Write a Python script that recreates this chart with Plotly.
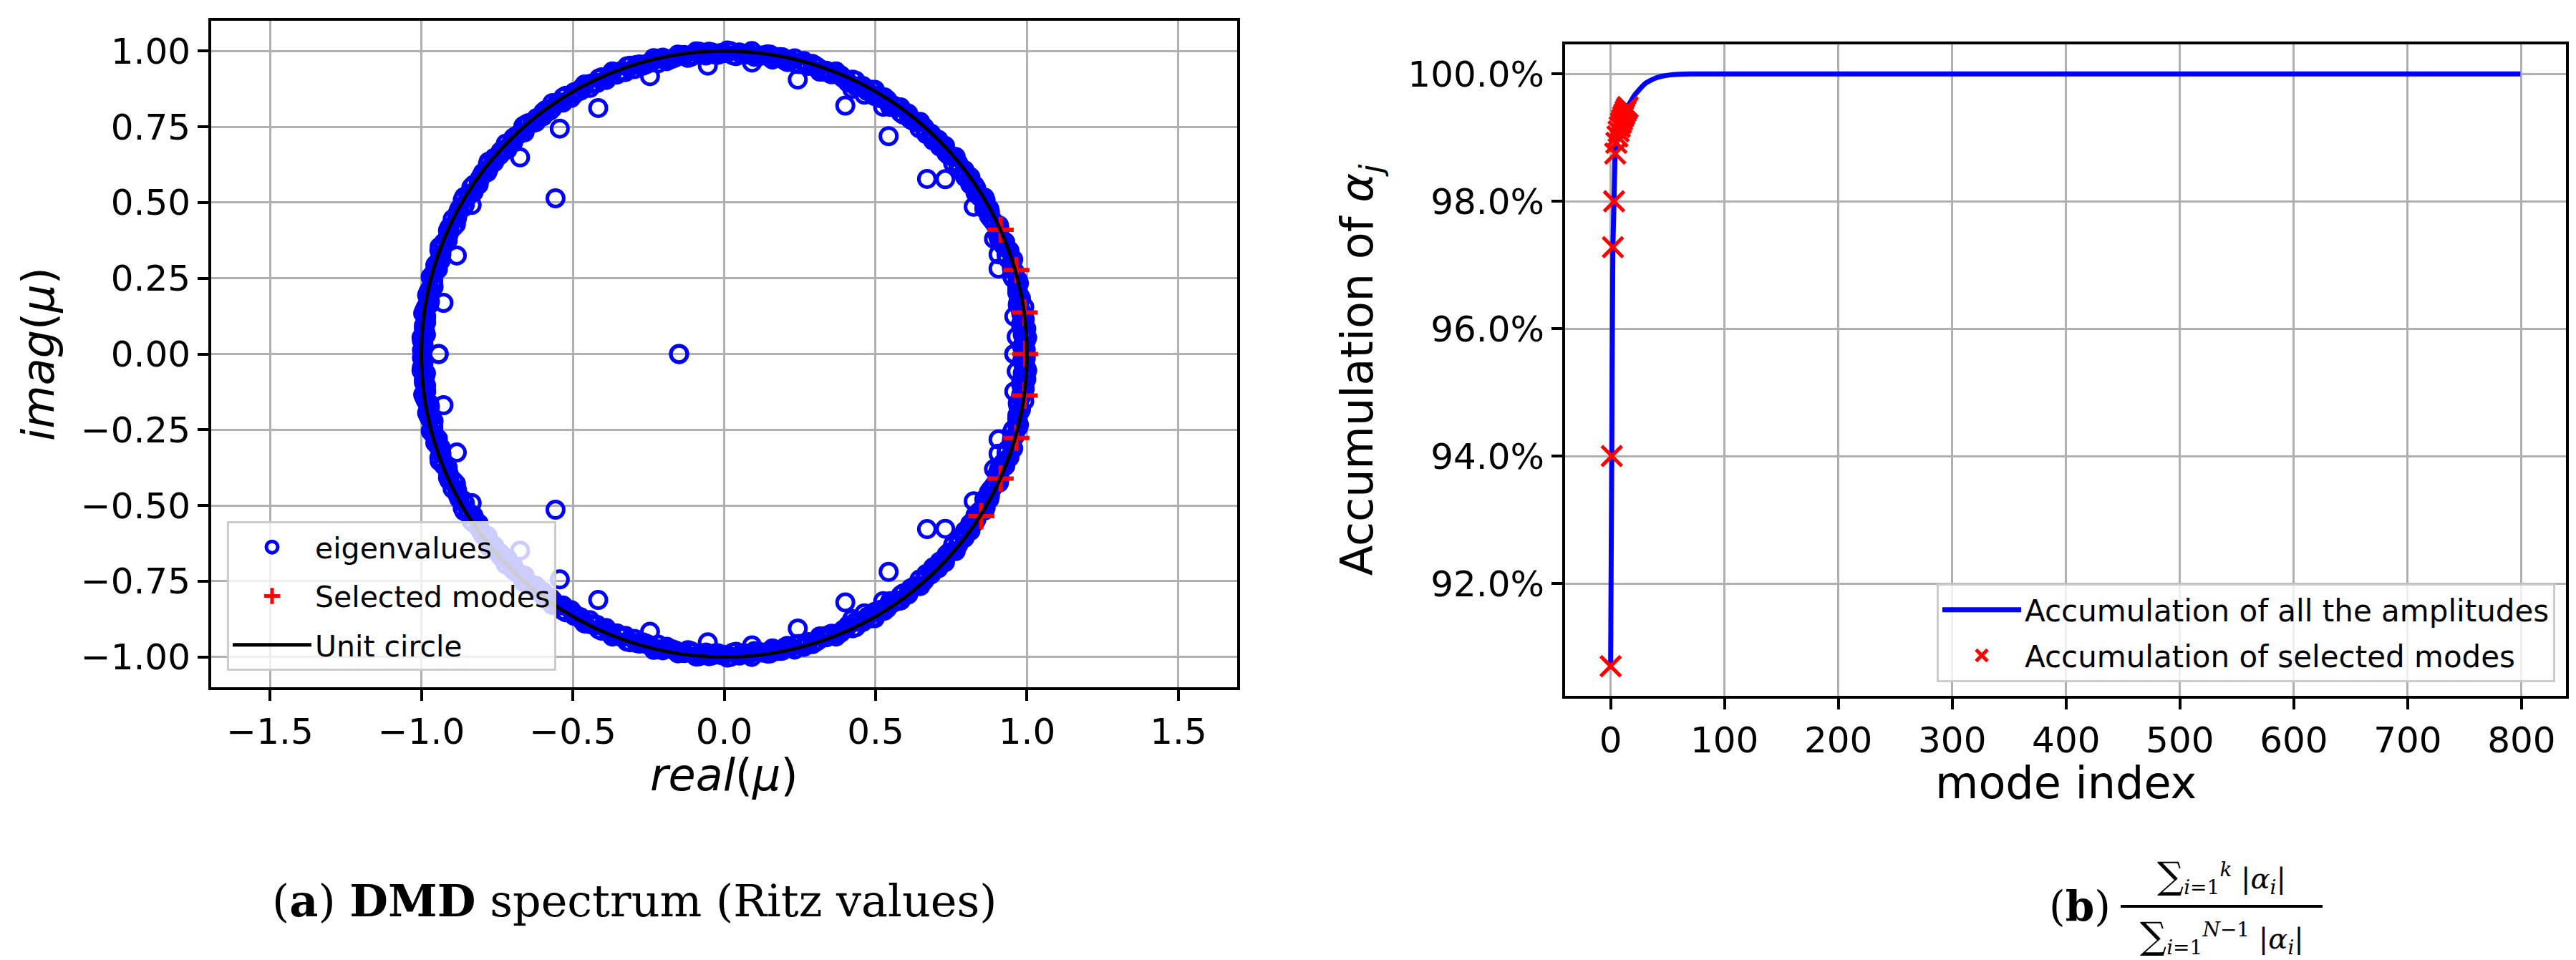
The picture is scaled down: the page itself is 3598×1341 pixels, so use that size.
import numpy as np
import plotly.graph_objects as go

# ---------------- data: left panel (DMD spectrum) ----------------
# dense ring of eigenvalues on the unit circle (upper half; lower half = conjugates)
ring_angle_deg = [0.8, 2.0, 3.1, 4.3, 5.2, 6.6, 7.7, 8.9, 10.1, 11.0,
                  12.4, 13.5, 14.7, 15.8, 17.0, 18.1, 19.3, 20.6, 21.7, 22.8,
                  24.0, 25.1, 26.4, 27.5, 28.7, 29.8, 31.0, 32.2, 33.3, 34.6,
                  35.7, 36.9, 38.0, 39.2, 40.4, 41.5, 42.7, 43.9, 45.0, 46.2,
                  47.4, 48.5, 49.8, 50.9, 52.1, 53.2, 54.4, 55.6, 56.7, 58.0,
                  59.1, 60.3, 61.4, 62.6, 63.8, 64.9, 66.1, 67.3, 68.4, 69.6,
                  70.8, 71.9, 73.1, 74.3, 75.4, 76.6, 77.8, 78.9, 80.1, 81.3,
                  82.4, 83.6, 84.8, 85.9, 87.1, 88.3, 89.4, 90.6, 91.8, 92.9,
                  94.1, 95.3, 96.4, 97.6, 98.8, 99.9, 101.1, 102.3, 103.4, 104.6,
                  105.8, 106.9, 108.1, 109.3, 110.4, 111.6, 112.8, 113.9, 115.1, 116.3,
                  117.4, 118.6, 119.8, 120.9, 122.1, 123.3, 124.4, 125.6, 126.8, 127.9,
                  129.1, 130.3, 131.4, 132.6, 133.8, 134.9, 136.1, 137.3, 138.4, 139.6,
                  140.8, 141.9, 143.1, 144.3, 145.4, 146.6, 147.8, 148.9, 150.1, 151.3,
                  152.4, 153.6, 154.8, 155.9, 157.1, 158.3, 159.4, 160.6, 161.8, 162.9,
                  164.1, 165.3, 166.4, 167.6, 168.8, 169.9, 171.1, 172.3, 173.4, 174.6,
                  175.8, 176.9, 178.1, 179.3]
ring_radius = [0.996, 0.989, 1.002, 0.992, 0.985, 0.999, 0.990, 1.003, 0.987, 0.995,
               0.991, 1.001, 0.986, 0.997, 0.993, 1.004, 0.988, 0.995, 0.999, 0.984,
               0.994, 1.002, 0.990, 0.986, 0.998, 0.993, 1.003, 0.989, 0.996, 0.987,
               1.001, 0.992, 0.985, 0.997, 1.004, 0.990, 0.994, 0.988, 1.000, 0.993,
               0.986, 0.998, 1.003, 0.991, 0.995, 0.987, 1.001, 0.993, 0.989, 0.999,
               0.994, 1.004, 0.988, 0.996, 0.985, 1.000, 0.992, 0.997, 1.003, 0.990,
               0.987, 0.995, 1.001, 0.993, 0.989, 1.003, 0.986, 0.998, 0.992, 1.000,
               0.995, 0.988, 1.004, 0.991, 0.997, 0.986, 1.002, 0.994, 0.989, 0.999,
               0.993, 1.003, 0.987, 0.996, 1.000, 0.990, 0.985, 0.998, 1.004, 0.992,
               0.989, 0.997, 1.001, 0.986, 0.994, 1.003, 0.991, 0.999, 0.988, 0.995,
               1.002, 0.990, 0.996, 0.985, 1.000, 0.993, 1.004, 0.988, 0.997, 0.991,
               0.986, 0.999, 1.003, 0.992, 0.995, 0.987, 1.001, 0.994, 0.990, 0.998,
               1.004, 0.989, 0.996, 0.993, 0.985, 1.000, 0.992, 1.003, 0.988, 0.997,
               0.994, 1.001, 0.987, 0.999, 0.991, 0.996, 1.004, 0.990, 0.986, 0.998,
               0.993, 1.002, 0.989, 0.995, 1.000, 0.987, 0.997, 1.003, 0.992, 0.996,
               0.990, 1.001, 0.994, 0.998]
ring2_angle_deg = [0.3, 1.4, 2.6, 3.7, 4.8, 5.9, 7.1, 8.3, 9.5, 10.6,
                   11.8, 12.9, 14.1, 15.2, 16.4, 17.6, 18.7, 19.9, 21.1, 22.3,
                   23.4, 24.6, 25.7, 26.9, 28.1, 29.2, 30.4, 31.6, 32.7, 33.9,
                   35.1, 36.3, 37.4, 38.6, 39.8, 40.9, 42.1, 43.3, 44.4, 45.6,
                   46.8, 47.9, 49.1, 50.3, 51.5, 52.6, 53.8, 55.0, 56.1, 57.3,
                   58.5, 59.7, 60.8, 62.0, 63.2, 64.3, 65.5, 66.7, 67.8, 69.0,
                   70.2, 71.3, 72.5, 73.7, 74.8, 76.0, 77.2, 78.3, 79.5, 80.7,
                   81.8, 83.0, 84.2, 85.3, 86.5, 87.7, 88.8, 90.0, 91.2, 92.3,
                   93.5, 94.7, 95.8, 97.0, 98.2, 99.3, 100.5, 101.7, 102.8, 104.0,
                   105.2, 106.3, 107.5, 108.7, 109.8, 111.0, 112.2, 113.3, 114.5, 115.7,
                   116.8, 118.0, 119.2, 120.3, 121.5, 122.7, 123.8, 125.0, 126.2, 127.3,
                   128.5, 129.7, 130.8, 132.0, 133.2, 134.3, 135.5, 136.7, 137.8, 139.0,
                   140.2, 141.3, 142.5, 143.7, 144.8, 146.0, 147.2, 148.3, 149.5, 150.7,
                   151.8, 153.0, 154.2, 155.3, 156.5, 157.7, 158.8, 160.0, 161.2, 162.3,
                   163.5, 164.7, 165.8, 167.0, 168.2, 169.3, 170.5, 171.7, 172.8, 174.0,
                   175.2, 176.3, 177.5, 178.7]
ring2_radius = [0.992, 0.984, 0.998, 0.988, 1.001, 0.986, 0.995, 0.990, 0.983, 0.997,
                0.989, 0.994, 1.000, 0.985, 0.991, 0.996, 0.987, 1.002, 0.990, 0.993,
                0.985, 0.999, 0.992, 0.988, 0.995, 0.984, 1.001, 0.991, 0.986, 0.997,
                0.993, 0.987, 0.999, 0.990, 0.984, 0.996, 0.989, 1.002, 0.992, 0.986,
                0.998, 0.991, 0.985, 0.995, 0.989, 1.000, 0.987, 0.994, 0.983, 0.997,
                0.990, 0.986, 0.999, 0.993, 0.988, 1.001, 0.985, 0.992, 0.996, 0.989,
                0.994, 0.984, 0.998, 0.991, 1.002, 0.987, 0.993, 0.989, 0.997, 0.985,
                0.999, 0.992, 0.986, 0.995, 0.990, 0.984, 1.000, 0.993, 0.988, 0.996,
                0.987, 1.001, 0.991, 0.985, 0.997, 0.992, 0.989, 0.999, 0.984, 0.994,
                0.990, 0.996, 0.986, 1.002, 0.993, 0.988, 0.995, 0.985, 0.999, 0.991,
                0.984, 0.997, 0.992, 0.989, 1.000, 0.986, 0.994, 0.990, 0.998, 0.987,
                0.995, 0.991, 1.001, 0.985, 0.993, 0.997, 0.988, 0.984, 0.996, 0.992,
                0.989, 1.000, 0.986, 0.994, 0.991, 0.998, 0.985, 0.993, 1.002, 0.988,
                0.996, 0.990, 0.984, 0.999, 0.992, 0.987, 0.995, 1.001, 0.989, 0.993,
                0.986, 0.997, 0.991, 0.985, 0.998, 0.994, 0.988, 1.000, 0.992, 0.990,
                0.995, 0.987, 0.999, 0.993]

# eigenvalues lying inside the ring (upper half; lower half = conjugates)
inner_re = [-0.149, -0.943, -0.927, -0.883, -0.834, -0.557, -0.674, -0.543, -0.416,
            -0.245, -0.054, 0.092, 0.243, 0.400, 0.423, 0.463, 0.525, 0.543, 0.670,
            0.730, 0.824, 0.891, 0.906, 0.906, 0.958, 0.966, 0.958]
inner_im = [0.000, 0.000, 0.169, 0.325, 0.492, 0.514, 0.649, 0.744, 0.812,
            0.917, 0.952, 0.962, 0.906, 0.820, 0.875, 0.856, 0.816, 0.719, 0.578,
            0.577, 0.486, 0.380, 0.329, 0.282, 0.124, 0.057, 0.000]

# selected modes
sel_re = [0.913, 0.965, 0.992, 0.994, 0.992, 0.965, 0.913, 0.849]
sel_im = [0.410, 0.277, 0.137, 0.000, -0.137, -0.277, -0.411, -0.535]

# ---------------- data: right panel (accumulated amplitudes) ----------------
curve_idx = [0, 1, 2, 3, 4, 5, 6, 7, 8, 9, 10, 11, 12, 13, 14, 15, 16,
             18, 20, 22, 25, 28, 31, 35, 40, 45, 50, 55, 60,
             70, 80, 100, 200, 300, 400, 500, 600, 700, 799]
curve_pct = [90.70, 94.00, 97.28, 98.00, 98.75, 98.92, 99.02, 99.10, 99.17, 99.23,
             99.28, 99.33, 99.37, 99.41, 99.45, 99.48, 99.52,
             99.58, 99.64, 99.69, 99.75, 99.81, 99.86, 99.90, 99.94, 99.965, 99.98,
             99.99, 99.995,
             100, 100, 100, 100, 100, 100, 100, 100, 100, 100]
sel_idx = [0, 1, 2, 3, 4, 5, 6, 7, 8, 9, 10, 11, 12, 13, 14, 15]
sel_pct = [90.70, 94.00, 97.28, 98.00, 98.75, 98.92, 99.02, 99.10, 99.17, 99.23,
           99.28, 99.33, 99.37, 99.41, 99.45, 99.48]

left_xticks = [-1.5, -1.0, -0.5, 0.0, 0.5, 1.0, 1.5]
left_yticks = [-1.0, -0.75, -0.5, -0.25, 0.0, 0.25, 0.5, 0.75, 1.0]
right_xticks = [0, 100, 200, 300, 400, 500, 600, 700, 800]
right_yticks = [92, 94, 96, 98, 100]
right_yticklabels = ["92.0%", "94.0%", "96.0%", "98.0%", "100.0%"]

# ---------------- build eigenvalue arrays ----------------
def polar(a_deg, r):
    a = np.deg2rad(np.array(a_deg))
    r = np.array(r)
    return r * np.cos(a), r * np.sin(a)

r1x, r1y = polar(ring_angle_deg, ring_radius)
r2x, r2y = polar(ring2_angle_deg, ring2_radius)
inre = np.array(inner_re)
inim = np.array(inner_im)
eig_re = np.concatenate([r1x, r1x, r2x, r2x, inre, inre])
eig_im = np.concatenate([r1y, -r1y, r2y, -r2y, inim, -inim])

W, H = 3598, 1341
BLUE = "#0000ff"
RED = "#ff0000"
FONT = "DejaVu Sans"

fig = go.Figure()

fig.add_trace(go.Scatter(
    x=eig_re, y=eig_im, mode="markers", name="eigenvalues", legendgroup="g1",
    marker=dict(symbol="circle-open", size=23, color=BLUE, line=dict(width=5, color=BLUE)),
    xaxis="x", yaxis="y", legend="legend"))
fig.add_trace(go.Scatter(
    x=sel_re, y=sel_im, mode="markers", name="Selected modes", legendgroup="g2",
    marker=dict(symbol="cross-thin-open", size=26, color=RED, line=dict(width=6, color=RED)),
    xaxis="x", yaxis="y", legend="legend"))
fig.add_trace(go.Scatter(
    x=[None], y=[None], mode="lines", name="Unit circle", legendgroup="g3",
    line=dict(color="black", width=5), xaxis="x", yaxis="y", legend="legend"))

fig.add_trace(go.Scatter(
    x=curve_idx, y=curve_pct, mode="lines", name="Accumulation of all the amplitudes",
    legendgroup="h1",
    line=dict(color=BLUE, width=7, shape="spline", smoothing=0.6),
    xaxis="x2", yaxis="y2", legend="legend2"))
fig.add_trace(go.Scatter(
    x=sel_idx, y=sel_pct, mode="markers", name="Accumulation of selected modes",
    legendgroup="h2",
    marker=dict(symbol="x-thin-open", size=28, color=RED, line=dict(width=5, color=RED)),
    xaxis="x2", yaxis="y2", legend="legend2"))

# unit circle drawn in data coordinates
fig.add_shape(type="circle", xref="x", yref="y", x0=-1, y0=-1, x1=1, y1=1,
              line=dict(color="black", width=5), layer="above")

axis_common = dict(
    showline=True, linecolor="black", linewidth=4, mirror=True,
    showgrid=True, gridcolor="#b0b0b0", gridwidth=3,
    ticks="outside", ticklen=15, tickwidth=4, tickcolor="black",
    tickfont=dict(family=FONT, size=50, color="black"),
    zeroline=False,
)

fig.update_layout(
    width=W, height=H,
    margin=dict(l=0, r=0, t=0, b=0),
    paper_bgcolor="white", plot_bgcolor="white",
    font=dict(family=FONT, color="black"),
    xaxis=dict(domain=[287 / W, 1720 / W], range=[-1.694, 1.694],
               tickvals=left_xticks, tickformat=".1f",
               anchor="y", **axis_common),
    yaxis=dict(domain=[1 - 952 / H, 1 - 21 / H], range=[-1.1, 1.1],
               tickvals=left_yticks, tickformat=".2f",
               title=dict(text="<i>imag</i>(<i>μ</i>)", font=dict(size=62, family=FONT), standoff=18),
               anchor="x", **axis_common),
    xaxis2=dict(domain=[2178 / W, 3576 / W], range=[-40, 839],
                tickvals=right_xticks,
                anchor="y2", **axis_common),
    yaxis2=dict(domain=[1 - 964 / H, 1 - 54 / H], range=[90.235, 100.465],
                tickvals=right_yticks, ticktext=right_yticklabels,
                title=dict(text="Accumulation of <i>α<sub>j</sub></i>", font=dict(size=62, family=FONT), standoff=30),
                anchor="x2", **axis_common),
    legend=dict(x=309 / W, y=1 - 720 / H, xanchor="left", yanchor="top",
                bgcolor="rgba(255,255,255,0.8)", bordercolor="#cccccc", borderwidth=3,
                font=dict(family=FONT, size=41, color="black"), itemwidth=110,
                traceorder="grouped", tracegroupgap=12),
    legend2=dict(x=3561 / W, y=1 - 945 / H, xanchor="right", yanchor="bottom",
                 bgcolor="rgba(255,255,255,0.8)", bordercolor="#cccccc", borderwidth=3,
                 font=dict(family=FONT, size=42, color="black"), itemwidth=110,
                 traceorder="grouped", tracegroupgap=6),
    showlegend=True,
)

# x-axis titles placed under the tick labels
fig.add_annotation(text="<i>real</i>(<i>μ</i>)", xref="x domain", yref="paper",
                   x=0.5, y=1 - 1074 / H, xanchor="center", yanchor="middle",
                   showarrow=False, font=dict(family=FONT, size=62, color="black"))
fig.add_annotation(text="mode index", xref="x2 domain", yref="paper",
                   x=0.5, y=1 - 1085 / H, xanchor="center", yanchor="middle",
                   showarrow=False, font=dict(family=FONT, size=62, color="black"))

# ---------------- captions ----------------
SERIF = "DejaVu Serif"
fig.add_annotation(text="(<b>a</b>) <b>DMD</b> spectrum (Ritz values)",
                   xref="paper", yref="paper", x=878 / W, y=1 - 1250 / H,
                   xanchor="center", yanchor="middle", showarrow=False,
                   font=dict(family=SERIF, size=62, color="black"))
fig.add_annotation(text="(<b>b</b>)",
                   xref="paper", yref="paper", x=2942 / W, y=1 - 1258 / H,
                   xanchor="right", yanchor="middle", showarrow=False,
                   font=dict(family=SERIF, size=58, color="black"))
fig.add_annotation(text="<span style='font-size:52px'>∑</span><sub><i>i</i>=1</sub><sup><i>k</i></sup> |<i>α<sub>i</sub></i>|",
                   xref="paper", yref="paper", x=3095 / W, y=1 - 1216 / H,
                   xanchor="center", yanchor="middle", showarrow=False,
                   font=dict(family=SERIF, size=40, color="black"))
fig.add_annotation(text="<span style='font-size:52px'>∑</span><sub><i>i</i>=1</sub><sup><i>N</i>−1</sup> |<i>α<sub>i</sub></i>|",
                   xref="paper", yref="paper", x=3095 / W, y=1 - 1300 / H,
                   xanchor="center", yanchor="middle", showarrow=False,
                   font=dict(family=SERIF, size=40, color="black"))
fig.add_shape(type="line", xref="paper", yref="paper",
              x0=2954 / W, x1=3236 / W, y0=1 - 1258 / H, y1=1 - 1258 / H,
              line=dict(color="black", width=4))

fig.write_html("out.html")
